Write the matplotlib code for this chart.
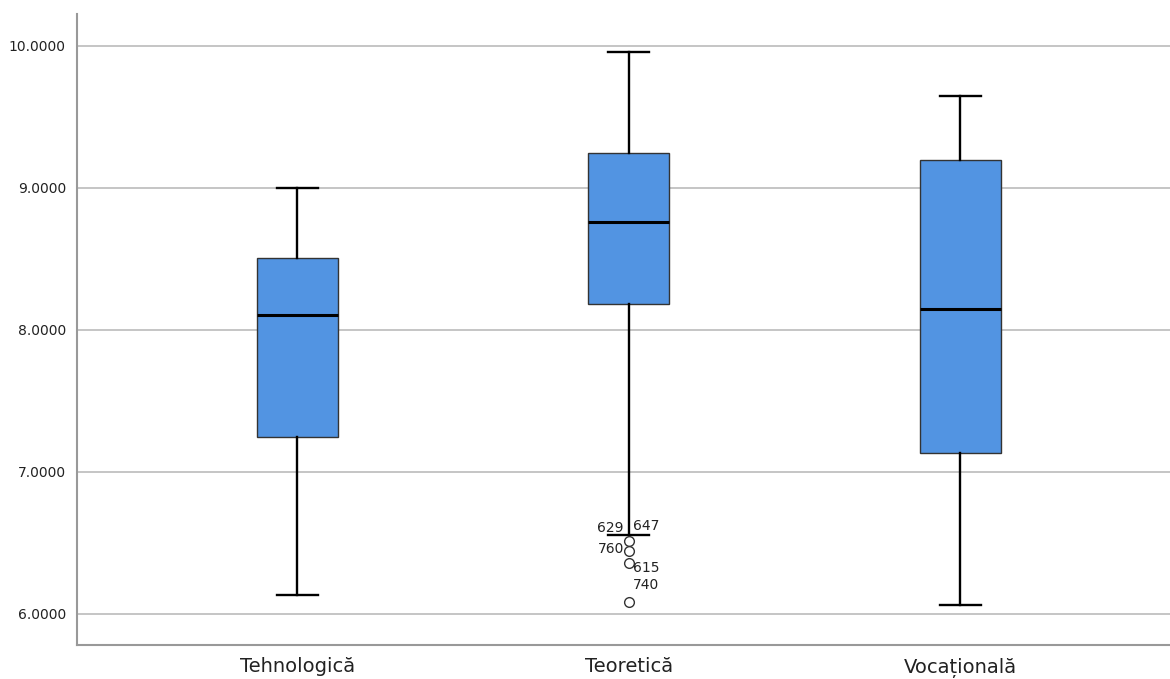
import matplotlib
matplotlib.use("Agg")
import matplotlib.pyplot as plt

categories = ["Tehnologică", "Teoretică", "Vocațională"]
whislo = [6.134, 6.556, 6.063]
q1 = [7.246, 8.183, 7.134]
med = [8.106, 8.761, 8.148]
q3 = [8.507, 9.246, 9.197]
whishi = [9.000, 9.958, 9.648]
outliers = [[], [6.51, 6.44, 6.36, 6.08], []]
outlier_ids = ["629", "647", "760", "615", "740"]
outlier_id_values = [6.51, 6.51, 6.44, 6.36, 6.08]
yticks = [6.0, 7.0, 8.0, 9.0, 10.0]

fig = plt.figure(figsize=(11.7, 6.79), dpi=100)
ax = fig.add_axes([77/1170, 34/679, 1 - 77/1170, (645-14)/679])

stats = []
for i, c in enumerate(categories):
    stats.append(dict(label=c, whislo=whislo[i], q1=q1[i], med=med[i],
                      q3=q3[i], whishi=whishi[i], fliers=outliers[i]))

positions = [1, 2, 3]
ax.bxp(stats, positions=positions, widths=0.245, capwidths=0.124,
       patch_artist=True, showfliers=True,
       boxprops=dict(facecolor="#5294E2", edgecolor="#333333", linewidth=1.0),
       medianprops=dict(color="black", linewidth=2.2),
       whiskerprops=dict(color="black", linewidth=1.7),
       capprops=dict(color="black", linewidth=1.7),
       flierprops=dict(marker="o", markerfacecolor="white", markeredgecolor="#333333",
                       markersize=7, markeredgewidth=1.0),
       zorder=3)

# outlier labels
offsets = [(-5, 13, "right"), (4, 15, "left"), (-5, 2, "right"), (4, -5, "left"), (4, 17, "left")]
for lab, v, (dx, dy, ha) in zip(outlier_ids, outlier_id_values, offsets):
    ax.annotate(lab, xy=(2, v), xytext=(dx, dy), textcoords="offset pixels",
                ha=ha, va="center", fontsize=10, color="#222222", zorder=4)

ax.set_xlim(0.335, 3.633)
ax.set_ylim(5.78, 10.225)
ax.set_yticks(yticks)
ax.set_yticklabels([f"{t:.4f}" for t in yticks], fontsize=10, color="#222222")
ax.set_xticks(positions)
ax.set_xticklabels(categories, fontsize=14, color="#222222")
ax.tick_params(axis="both", length=0)
ax.tick_params(axis="x", pad=9)
ax.tick_params(axis="y", pad=8)
ax.yaxis.grid(True, color="#BBBBBB", linewidth=1.2, zorder=0)
ax.set_axisbelow(True)
for s in ["top", "right"]:
    ax.spines[s].set_visible(False)
for s in ["left", "bottom"]:
    ax.spines[s].set_color("#999999")
    ax.spines[s].set_linewidth(1.5)

fig.savefig("out.png", dpi=100)
